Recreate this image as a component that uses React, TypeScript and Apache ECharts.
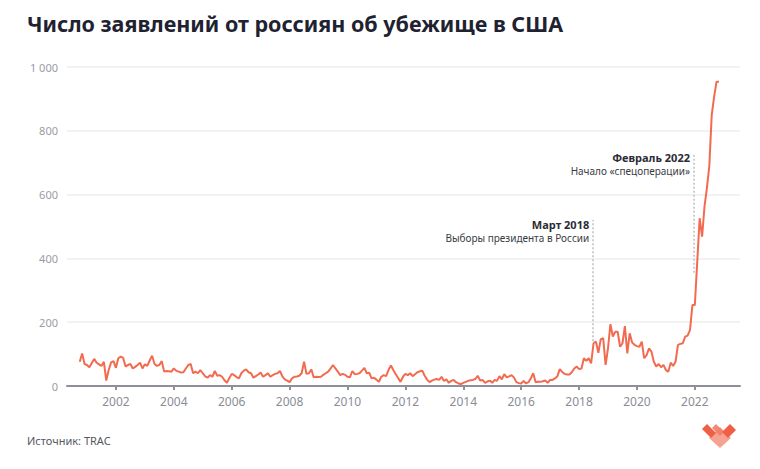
import React, { useEffect, useRef } from "react";
import * as echarts from "echarts";

// Monthly number of asylum applications, starting October 2000
const startYear = 2000;
const startMonth = 10;
const values = [
  76, 102, 69, 66, 59, 72, 85, 73, 68, 63, 76, 17,
  50, 74, 78, 57, 87, 92, 88, 61, 66, 69, 55, 60,
  66, 73, 55, 68, 63, 80, 95, 69, 63, 66, 78, 45,
  47, 46, 45, 55, 48, 45, 42, 43, 55, 66, 69, 40,
  45, 40, 50, 40, 30, 26, 34, 29, 47, 32, 34, 29,
  18, 10, 24, 38, 34, 28, 24, 40, 48, 52, 43, 40,
  26, 31, 36, 42, 29, 34, 40, 29, 34, 38, 40, 47,
  30, 21, 17, 12, 24, 29, 30, 32, 40, 76, 38, 40,
  52, 27, 29, 28, 29, 35, 40, 45, 55, 66, 55, 45,
  34, 38, 35, 29, 27, 47, 37, 38, 40, 48, 57, 40,
  42, 24, 26, 20, 13, 29, 34, 31, 50, 64, 50, 37,
  25, 13, 29, 38, 34, 40, 31, 37, 43, 46, 48, 32,
  20, 12, 17, 20, 22, 19, 29, 16, 21, 10, 16, 19,
  12, 8, 6, 10, 13, 16, 18, 19, 22, 32, 17, 19,
  10, 14, 17, 10, 19, 16, 31, 21, 37, 27, 30, 34,
  27, 12, 9, 8, 16, 8, 12, 24, 40, 12, 13, 13,
  15, 17, 10, 19, 19, 24, 30, 53, 44, 38, 36, 36,
  43, 55, 61, 53, 55, 87, 79, 87, 71, 134, 139, 104,
  147, 150, 66, 118, 194, 155, 170, 170, 123, 134, 188, 102,
  165, 136, 129, 125, 123, 139, 87, 97, 118, 108, 76, 61,
  69, 59, 66, 50, 45, 73, 63, 76, 129, 132, 134, 155,
  158, 176, 254, 254, 390, 526, 468, 562, 620, 690, 850, 907,
  954, 954,
];

const yearTicks = [2002, 2004, 2006, 2008, 2010, 2012, 2014, 2016, 2018, 2020, 2022];
const yMax = 1000;
const yInterval = 200;

const annotations = [
  { x: 2018.49, from: 140, to: 520, title: "Март 2018", text: "Выборы президента в России" },
  { x: 2021.97, from: 355, to: 731, title: "Февраль 2022", text: "Начало «спецоперации»" },
];

const titleText = "Число заявлений от россиян об убежище в США";
const sourceText = "Источник: TRAC";

const FONT = "'Noto Sans', sans-serif";

export default function App() {
  const ref = useRef<HTMLDivElement>(null);

  useEffect(() => {
    if (!ref.current) return;
    const chart = echarts.init(ref.current, null, { renderer: "svg" });

    const seriesData = values.map((v, i) => [startYear + (startMonth - 1 + i) / 12, v]);

    const option: any = {
      animation: false,
      backgroundColor: "#ffffff",
      textStyle: { fontFamily: FONT },
      grid: { left: 67, right: 20, top: 67, bottom: 83 },
      xAxis: {
        type: "value",
        min: 2000.31,
        max: 2023.56,
        splitLine: { show: false },
        axisLine: { show: true, lineStyle: { color: "#8d9098", width: 2 } },
        axisTick: {
          show: true,
          customValues: yearTicks,
          length: 4,
          lineStyle: { color: "#8d9098", width: 2 },
        },
        axisLabel: {
          customValues: yearTicks,
          formatter: (v: number) => String(Math.round(v)),
          color: "#8a8d96",
          fontSize: 12,
          margin: 9,
          fontFamily: FONT,
        },
      },
      yAxis: {
        type: "value",
        min: 0,
        max: yMax,
        interval: yInterval,
        axisLine: { show: false },
        axisTick: { show: false },
        splitLine: { lineStyle: { color: "#eeeeee", width: 1.5 } },
        axisLabel: {
          color: "#9a9ca3",
          fontSize: 11,
          margin: 9,
          fontFamily: FONT,
          formatter: (v: number) => String(v).replace(/\B(?=(\d{3})+(?!\d))/g, " "),
        },
      },
      series: [
        {
          type: "line",
          data: seriesData,
          showSymbol: false,
          symbol: "none",
          lineStyle: { color: "#f26b50", width: 2 },
          z: 5,
          markLine: {
            silent: true,
            symbol: ["none", "none"],
            label: { show: false },
            lineStyle: { color: "#bdbdbd", width: 1.5, type: [2, 2] },
            data: annotations.map((a) => [{ coord: [a.x, a.from] }, { coord: [a.x, a.to] }]),
            z: 3,
          },
        },
      ],
    };
    chart.setOption(option);

    const graphics: any[] = [
      {
        type: "text",
        left: 27,
        top: 12,
        style: {
          text: titleText,
          font: `bold 21.5px ${FONT}`,
          fill: "#1f2230",
        },
      },
      {
        type: "text",
        left: 27,
        top: 435,
        style: {
          text: sourceText,
          font: `11px ${FONT}`,
          fill: "#555860",
        },
      },
      // logo
      {
        type: "group",
        children: [
          {
            type: "polygon",
            shape: { points: [[709, 438], [720, 427], [731, 438], [720, 448]] },
            style: { fill: "#f6a293" },
          },
          {
            type: "polygon",
            shape: { points: [[702, 429], [707, 424], [716, 433], [711, 438]] },
            style: { fill: "#ef5f45" },
          },
          {
            type: "polygon",
            shape: { points: [[712, 428], [716, 424], [724, 432], [720, 436]] },
            style: { fill: "#f27c66", opacity: 0.9 },
          },
          {
            type: "polygon",
            shape: { points: [[722, 432], [730, 424], [736, 430], [728, 438]] },
            style: { fill: "#ef5f45" },
          },
        ],
      },
    ];

    annotations.forEach((a) => {
      const p = chart.convertToPixel({ gridIndex: 0 }, [a.x, a.to]) as number[];
      graphics.push({
        type: "text",
        x: p[0] - 4,
        y: p[1] + 4.5,
        style: {
          text: a.title,
          font: `bold 11px ${FONT}`,
          fill: "#2a2c36",
          align: "right",
          verticalAlign: "middle",
        },
      });
      graphics.push({
        type: "text",
        x: p[0] - 4,
        y: p[1] + 18,
        style: {
          text: a.text,
          font: `10px ${FONT}`,
          fill: "#3a3c44",
          align: "right",
          verticalAlign: "middle",
        },
      });
    });

    chart.setOption({ graphic: graphics });

    return () => chart.dispose();
  }, []);

  return (
    <div
      ref={ref}
      style={{ position: "fixed", left: 0, top: 0, width: 760, height: 469 }}
    />
  );
}
